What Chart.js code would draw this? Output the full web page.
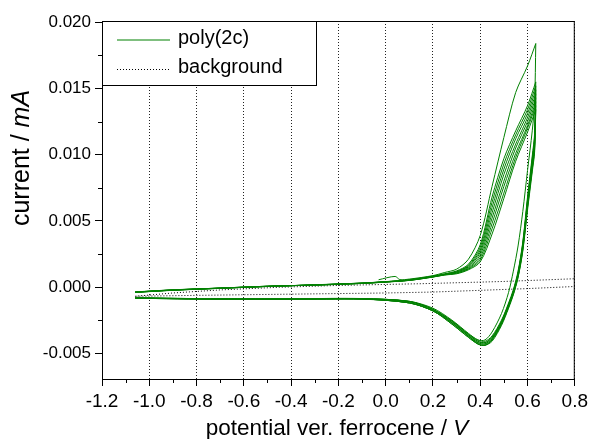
<!DOCTYPE html>
<html>
<head>
<meta charset="utf-8">
<script src="https://cdn.jsdelivr.net/npm/chart.js@4.4.0/dist/chart.umd.min.js"></script>
<style>
  html, body { margin: 0; padding: 0; background: #fff; }
  #cv { display: block; }
</style>
</head>
<body>
<canvas id="cv" width="592" height="439"></canvas>
<script>
// axis ticks (potential in V vs. ferrocene, current in mA)
var xTicks = [-1.2, -1.0, -0.8, -0.6, -0.4, -0.2, 0.0, 0.2, 0.4, 0.6, 0.8];
var yTicks = [-0.005, 0.000, 0.005, 0.010, 0.015, 0.020];
var seriesNames = ['poly(2c)', 'background'];

// first oxidative scan, started close to 0 V
var firstScanPot = [-0.03, 0.04, 0.06, 0.10, 0.20, 0.25, 0.30, 0.35, 0.40, 0.45, 0.50, 0.55, 0.60, 0.635];
var firstScanCur = [0.00055, 0.00080, 0.00056, 0.00060, 0.00086, 0.00110, 0.00135, 0.00210, 0.00390, 0.00760, 0.01130, 0.01470, 0.01670, 0.01840];

// oxidative sweeps of the following cycles (-1.06 V -> 0.635 V)
var upPot = [-1.06, -0.90, -0.70, -0.50, -0.30, -0.10, 0.00, 0.10, 0.20, 0.25, 0.30, 0.35, 0.40, 0.45, 0.50, 0.55, 0.60, 0.635];
var upCur = [
  [-0.00041, -0.00025, -0.00010, 0.00004, 0.00017, 0.00030, 0.00041, 0.00055, 0.00083, 0.00100, 0.00122, 0.00172, 0.00320, 0.00680, 0.00970, 0.01180, 0.01370, 0.01550],
  [-0.00040, -0.00024, -0.00010, 0.00004, 0.00016, 0.00030, 0.00040, 0.00054, 0.00081, 0.00098, 0.00118, 0.00164, 0.00300, 0.00640, 0.00930, 0.01150, 0.01340, 0.01520],
  [-0.00040, -0.00024, -0.00009, 0.00005, 0.00016, 0.00029, 0.00040, 0.00053, 0.00080, 0.00096, 0.00115, 0.00158, 0.00280, 0.00600, 0.00890, 0.01120, 0.01310, 0.01490],
  [-0.00039, -0.00023, -0.00009, 0.00005, 0.00016, 0.00029, 0.00039, 0.00052, 0.00079, 0.00095, 0.00112, 0.00152, 0.00262, 0.00560, 0.00850, 0.01080, 0.01280, 0.01460],
  [-0.00039, -0.00023, -0.00009, 0.00005, 0.00015, 0.00028, 0.00039, 0.00052, 0.00078, 0.00094, 0.00109, 0.00146, 0.00242, 0.00520, 0.00800, 0.01050, 0.01250, 0.01430],
  [-0.00038, -0.00022, -0.00008, 0.00006, 0.00015, 0.00028, 0.00038, 0.00051, 0.00077, 0.00093, 0.00106, 0.00140, 0.00222, 0.00480, 0.00760, 0.01010, 0.01220, 0.01400],
  [-0.00038, -0.00022, -0.00008, 0.00006, 0.00015, 0.00027, 0.00038, 0.00050, 0.00076, 0.00092, 0.00103, 0.00135, 0.00205, 0.00440, 0.00710, 0.00980, 0.01200, 0.01370],
  [-0.00037, -0.00021, -0.00008, 0.00006, 0.00014, 0.00027, 0.00037, 0.00050, 0.00075, 0.00091, 0.00100, 0.00130, 0.00190, 0.00400, 0.00670, 0.00950, 0.01170, 0.01340]
];

// reductive sweeps (0.635 V -> -1.06 V), first one follows the first scan
var downPot = [0.635, 0.63, 0.62, 0.60, 0.58, 0.56, 0.54, 0.52, 0.49, 0.45, 0.42, 0.39, 0.35, 0.28, 0.20, 0.10, -0.10, -0.40, -0.70, -1.06];
var downCur = [
  [0.01840, 0.01400, 0.01180, 0.00880, 0.00570, 0.00310, 0.00120, -0.00040, -0.00200, -0.00340, -0.00400, -0.00400, -0.00355, -0.00255, -0.00168, -0.00108, -0.00088, -0.00088, -0.00089, -0.00082],
  [0.01550, 0.01160, 0.00990, 0.00680, 0.00340, 0.00120, -0.00020, -0.00120, -0.00250, -0.00370, -0.00410, -0.00400, -0.00350, -0.00250, -0.00160, -0.00108, -0.00087, -0.00089, -0.00089, -0.00082],
  [0.01520, 0.01140, 0.00970, 0.00660, 0.00330, 0.00110, -0.00030, -0.00130, -0.00260, -0.00380, -0.00420, -0.00410, -0.00360, -0.00260, -0.00170, -0.00110, -0.00088, -0.00090, -0.00090, -0.00083],
  [0.01490, 0.01120, 0.00950, 0.00650, 0.00320, 0.00100, -0.00030, -0.00130, -0.00260, -0.00380, -0.00420, -0.00410, -0.00360, -0.00260, -0.00170, -0.00110, -0.00089, -0.00091, -0.00090, -0.00083],
  [0.01460, 0.01100, 0.00930, 0.00630, 0.00310, 0.00100, -0.00040, -0.00140, -0.00270, -0.00390, -0.00430, -0.00420, -0.00370, -0.00270, -0.00170, -0.00110, -0.00090, -0.00092, -0.00091, -0.00084],
  [0.01430, 0.01080, 0.00920, 0.00620, 0.00300, 0.00090, -0.00040, -0.00140, -0.00270, -0.00390, -0.00430, -0.00420, -0.00370, -0.00270, -0.00180, -0.00120, -0.00090, -0.00092, -0.00091, -0.00084],
  [0.01400, 0.01060, 0.00900, 0.00610, 0.00290, 0.00080, -0.00050, -0.00150, -0.00280, -0.00400, -0.00440, -0.00430, -0.00370, -0.00270, -0.00180, -0.00120, -0.00091, -0.00093, -0.00092, -0.00085],
  [0.01370, 0.01040, 0.00890, 0.00600, 0.00280, 0.00080, -0.00050, -0.00150, -0.00280, -0.00400, -0.00440, -0.00430, -0.00380, -0.00280, -0.00180, -0.00120, -0.00091, -0.00093, -0.00092, -0.00085],
  [0.01340, 0.01020, 0.00870, 0.00580, 0.00270, 0.00070, -0.00060, -0.00160, -0.00290, -0.00410, -0.00440, -0.00430, -0.00380, -0.00280, -0.00180, -0.00120, -0.00092, -0.00094, -0.00093, -0.00085]
];

// background CV (electrolyte only)
var bgPot = [-1.06, -0.90, -0.70, -0.45, -0.20, 0.15, 0.50, 0.85, 0.85, 0.60, 0.20, 0.00, -0.45, -0.80, -1.06];
var bgCur = [-0.00070, -0.00045, -0.00022, -0.00002, 0.00012, 0.00025, 0.00042, 0.00066, 0.00008, -0.00012, -0.00038, -0.00045, -0.00055, -0.00063, -0.00070];

var GREEN = 'rgb(0,128,0)';
var FONT = "'Liberation Sans', Arial, sans-serif";

function pts(xs, ys) {
  return xs.map(function (x, i) { return { x: x, y: ys[i] }; });
}

function greenSet(data) {
  return {
    label: seriesNames[0],
    data: data,
    showLine: true,
    borderColor: GREEN,
    borderWidth: 1,
    pointRadius: 0,
    tension: 0.3
  };
}

var datasets = [];
datasets.push(greenSet(pts(firstScanPot, firstScanCur)));
upCur.forEach(function (c) { datasets.push(greenSet(pts(upPot, c))); });
downCur.forEach(function (c) { datasets.push(greenSet(pts(downPot, c))); });
datasets.push({
  label: seriesNames[1],
  data: pts(bgPot, bgCur),
  showLine: true,
  borderColor: '#000',
  borderWidth: 1,
  borderDash: [1, 2],
  pointRadius: 0,
  tension: 0
});

// writes a label made of plain and italic pieces, centred on (0,0)
function mixedText(ctx, parts, size) {
  var widths = parts.map(function (p) {
    ctx.font = (p[1] ? 'italic ' : '') + size + 'px ' + FONT;
    return ctx.measureText(p[0]).width;
  });
  var total = widths.reduce(function (a, b) { return a + b; }, 0);
  var x = -total / 2;
  parts.forEach(function (p, i) {
    ctx.font = (p[1] ? 'italic ' : '') + size + 'px ' + FONT;
    ctx.fillText(p[0], x, 0);
    x += widths[i];
  });
}

var decor = {
  id: 'decor',
  afterDatasetsDraw: function (chart) {
    var ctx = chart.ctx, a = chart.chartArea;
    var xs = chart.scales.x, ys = chart.scales.y;
    ctx.save();
    ctx.strokeStyle = '#000';
    ctx.lineWidth = 1;
    ctx.setLineDash([]);
    // top and right frame
    ctx.beginPath();
    ctx.moveTo(a.left, a.top + 0.5);
    ctx.lineTo(a.right - 0.5, a.top + 0.5);
    ctx.lineTo(a.right - 0.5, a.bottom);
    ctx.stroke();
    // minor ticks halfway between the labelled ones
    ctx.beginPath();
    for (var i = 0; i < xTicks.length - 1; i++) {
      var px = Math.round(xs.getPixelForValue((xTicks[i] + xTicks[i + 1]) / 2)) + 0.5;
      ctx.moveTo(px, a.bottom);
      ctx.lineTo(px, a.bottom + 4);
    }
    for (var j = 0; j < yTicks.length - 1; j++) {
      var py = Math.round(ys.getPixelForValue((yTicks[j] + yTicks[j + 1]) / 2)) + 0.5;
      ctx.moveTo(a.left, py);
      ctx.lineTo(a.left - 4, py);
    }
    ctx.stroke();

    // legend box
    var bx = a.left + 0.5, by = a.top + 0.5, bw = 214, bh = 64;
    ctx.fillStyle = '#fff';
    ctx.fillRect(bx, by, bw, bh);
    ctx.strokeRect(bx, by, bw, bh);
    ctx.strokeStyle = GREEN;
    ctx.beginPath();
    ctx.moveTo(117, 40);
    ctx.lineTo(170, 40);
    ctx.stroke();
    ctx.strokeStyle = '#000';
    ctx.setLineDash([1, 2]);
    ctx.beginPath();
    ctx.moveTo(117, 69.5);
    ctx.lineTo(169, 69.5);
    ctx.stroke();
    ctx.setLineDash([]);
    ctx.fillStyle = '#000';
    ctx.font = '20px ' + FONT;
    ctx.textBaseline = 'alphabetic';
    ctx.textAlign = 'left';
    ctx.fillText(seriesNames[0], 178, 44);
    ctx.fillText(seriesNames[1], 178, 73);
    ctx.restore();
  },
  afterDraw: function (chart) {
    var ctx = chart.ctx;
    ctx.save();
    ctx.fillStyle = '#000';
    ctx.textAlign = 'left';
    ctx.textBaseline = 'alphabetic';
    ctx.translate(337, 435);
    mixedText(ctx, [['potential ver. ferrocene / ', false], ['V', true]], 22.5);
    ctx.restore();

    ctx.save();
    ctx.fillStyle = '#000';
    ctx.textAlign = 'left';
    ctx.textBaseline = 'alphabetic';
    ctx.translate(29, 158);
    ctx.rotate(-Math.PI / 2);
    mixedText(ctx, [['current / ', false], ['mA', true]], 25);
    ctx.restore();
  }
};

new Chart(document.getElementById('cv'), {
  type: 'scatter',
  data: { datasets: datasets },
  options: {
    responsive: false,
    animation: false,
    events: [],
    layout: { padding: { left: 0, right: 16, top: 21, bottom: 0 }, autoPadding: false },
    plugins: { legend: { display: false }, tooltip: { enabled: false } },
    scales: {
      x: {
        type: 'linear',
        min: -1.2,
        max: 0.8,
        afterBuildTicks: function (s) { s.ticks = xTicks.map(function (v) { return { value: v }; }); },
        afterFit: function (s) { s.height = 60; },
        ticks: {
          color: '#000',
          font: { family: FONT, size: 19 },
          padding: 4,
          maxRotation: 0,
          autoSkip: false,
          callback: function (v) { return v.toFixed(1); }
        },
        grid: { color: '#222', lineWidth: 1, tickLength: 7, tickColor: '#000' },
        border: { display: true, color: '#000', width: 1, dash: [1, 2] }
      },
      y: {
        type: 'linear',
        min: -0.00695,
        max: 0.0201,
        afterBuildTicks: function (s) { s.ticks = yTicks.map(function (v) { return { value: v }; }); },
        afterFit: function (s) { s.width = 102; },
        ticks: {
          color: '#000',
          font: { family: FONT, size: 17 },
          padding: 4,
          autoSkip: false,
          callback: function (v) { return v.toFixed(3); }
        },
        grid: { drawOnChartArea: false, tickLength: 7, tickColor: '#000' },
        border: { display: true, color: '#000', width: 1 }
      }
    }
  },
  plugins: [decor]
});
</script>
</body>
</html>
